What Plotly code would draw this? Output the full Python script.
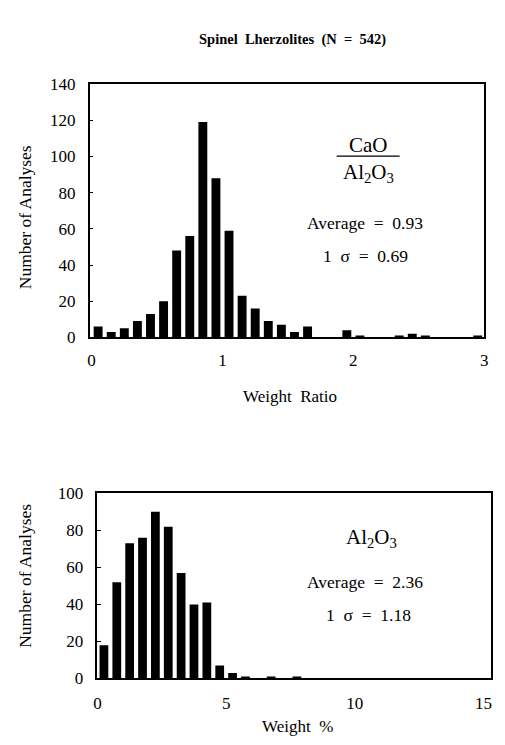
import plotly.graph_objects as go

# --- Data ---
ratio_bins = [0.05, 0.15, 0.25, 0.35, 0.45, 0.55, 0.65, 0.75, 0.85, 0.95, 1.05,
              1.15, 1.25, 1.35, 1.45, 1.55, 1.65, 1.95, 2.05, 2.35, 2.45, 2.55, 2.95]
ratio_counts = [6, 3, 5, 9, 13, 20, 48, 56, 119, 88, 59,
                23, 16, 9, 7, 3, 6, 4, 1, 1, 2, 1, 1]

al_bins = [0.25, 0.75, 1.25, 1.75, 2.25, 2.75, 3.25, 3.75, 4.25, 4.75, 5.25, 5.75, 6.75, 7.75]
al_counts = [18, 52, 73, 76, 90, 82, 57, 40, 41, 7, 3, 1, 1, 1]

top_yticks = [0, 20, 40, 60, 80, 100, 120, 140]
top_xticks = [0, 1, 2, 3]
bot_yticks = [0, 20, 40, 60, 80, 100]
bot_xticks = [0, 5, 10, 15]

W, H = 505, 745
FONT = "Liberation Serif"

def px(x):
    return x / W

def py(y):
    return 1 - y / H

fig = go.Figure()
fig.add_trace(go.Bar(x=ratio_bins, y=ratio_counts, width=0.068,
                     marker=dict(color="black", line=dict(width=0)),
                     xaxis="x", yaxis="y", showlegend=False, hoverinfo="skip"))
fig.add_trace(go.Bar(x=al_bins, y=al_counts, width=0.34,
                     marker=dict(color="black", line=dict(width=0)),
                     xaxis="x2", yaxis="y2", showlegend=False, hoverinfo="skip"))

axis_common = dict(showgrid=False, zeroline=False, showline=True, mirror=True,
                   linecolor="black", linewidth=1.6,
                   tickfont=dict(family=FONT, size=17, color="black"))

fig.update_layout(
    width=W, height=H,
    margin=dict(l=0, r=0, t=0, b=0),
    paper_bgcolor="white", plot_bgcolor="white",
    font=dict(family=FONT, color="black"),
    xaxis=dict(domain=[px(87), px(488)], anchor="y", range=[-0.015, 3.0],
               tickvals=top_xticks, ticks="", ticklen=0, ticklabelstandoff=6,
               **axis_common),
    yaxis=dict(domain=[py(337), py(77)], anchor="x", range=[0, 140],
               tickvals=top_yticks, ticks="inside", ticklen=4, tickcolor="black",
               ticklabelstandoff=9,
               **axis_common),
    xaxis2=dict(domain=[px(95), px(495)], anchor="y2", range=[0, 15.3],
                tickvals=bot_xticks, ticks="", ticklen=0, ticklabelstandoff=8,
                **axis_common),
    yaxis2=dict(domain=[py(687), py(497)], anchor="x2", range=[0, 100],
                tickvals=bot_yticks, ticks="inside", ticklen=4, tickcolor="black",
                ticklabelstandoff=9,
                **axis_common),
)

def ann(text, x, y, size=16, bold=False, angle=0):
    fig.add_annotation(text=("<b>%s</b>" % text) if bold else text,
                       x=px(x), y=py(y), xref="paper", yref="paper",
                       showarrow=False, xanchor="center", yanchor="middle",
                       textangle=angle,
                       font=dict(family=FONT, size=size, color="black"))

ann("Spinel  Lherzolites  (N  =  542)", 293, 31, size=14.5, bold=True)

# axis titles
ann("Number of Analyses", 21, 214, size=17.5, angle=-90)
ann("Weight  Ratio", 291, 398, size=17)
ann("Number of Analyses", 22, 582, size=17.5, angle=-90)
ann("Weight  %", 298, 736, size=17)

ann("CaO", 370, 140, size=21)
fig.add_shape(type="line", xref="paper", yref="paper",
              x0=px(338), x1=px(402), y0=py(151), y1=py(151),
              line=dict(color="black", width=1.3))
ann("Al<sub>2</sub>O<sub>3</sub>", 370, 168, size=21)
ann("Average  =  0.93", 367, 220, size=17.5)
ann("1  σ  =  0.69", 367, 253, size=17.5)

ann("Al<sub>2</sub>O<sub>3</sub>", 373, 543, size=21)
ann("Average  =  2.36", 367, 588, size=17.5)
ann("1  σ  =  1.18", 370, 622, size=17.5)

fig.write_html("out.html",
               config={"displayModeBar": False},
               post_script="document.body.style.margin='0';document.body.style.overflow='hidden';")
